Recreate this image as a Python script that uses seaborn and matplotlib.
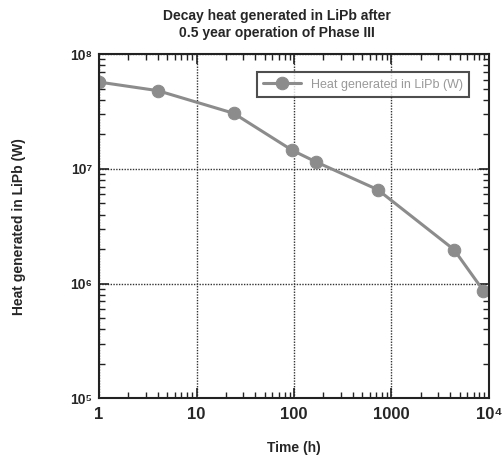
import numpy as np
import pandas as pd
from matplotlib import pyplot as plt
from matplotlib.ticker import LogLocator, NullFormatter, FixedLocator
import seaborn as sns

# decay heat after 0.5 year operation
time_h = [1, 4, 24, 96, 168, 720, 4380, 8760]
heat_w = [5.7e7, 4.8e7, 3.05e7, 1.45e7, 1.15e7, 6.6e6, 1.98e6, 8.7e5]
series_label = "Heat generated in LiPb (W)"
x_ticks = [1, 10, 100, 1000, 10000]
x_tick_labels = ["1", "10", "100", "1000", "10\u2074"]
y_ticks = [1e5, 1e6, 1e7, 1e8]
y_tick_labels = ["10\u2075", "10\u2076", "10\u2077", "10\u2078"]

sns.set_style("ticks")
plt.rcParams['font.family'] = ['Liberation Sans', 'DejaVu Sans']

df = pd.DataFrame({"time": time_h, "heat": heat_w})

fig = plt.figure(figsize=(5.03, 4.58), dpi=100)
ax = fig.add_axes([0.197, 0.13, 0.775, 0.752])

sns.lineplot(data=df, x="time", y="heat", ax=ax, color="#8c8c8c", linewidth=2.2,
             marker="o", markersize=9, markeredgecolor="#8c8c8c", label=series_label)

ax.set_xscale("log")
ax.set_yscale("log")
ax.set_xlim(1, 1e4)
ax.set_ylim(1e5, 1e8)

ax.xaxis.set_major_locator(FixedLocator(x_ticks))
ax.set_xticklabels(x_tick_labels)
ax.yaxis.set_major_locator(FixedLocator(y_ticks))
ax.set_yticklabels(y_tick_labels)
ax.xaxis.set_minor_locator(LogLocator(base=10, subs=np.arange(2, 10), numticks=20))
ax.yaxis.set_minor_locator(LogLocator(base=10, subs=np.arange(2, 10), numticks=20))
ax.xaxis.set_minor_formatter(NullFormatter())
ax.yaxis.set_minor_formatter(NullFormatter())

ax.tick_params(which="both", direction="in", top=True, right=True, color="#222222")
ax.tick_params(which="major", length=7, width=1.2)
ax.tick_params(which="minor", length=4, width=1.0)
ax.tick_params(axis="x", which="major", labelsize=12, pad=6)
ax.tick_params(axis="y", which="major", labelsize=10, pad=5)
for lab in ax.get_xticklabels() + ax.get_yticklabels():
    lab.set_fontweight("bold")

for sp in ax.spines.values():
    sp.set_linewidth(1.5)
    sp.set_color("#222222")

ax.grid(True, which="major", linestyle=(0, (1, 1)), color="#333333", linewidth=1.0)

ax.set_xlabel("Time (h)", fontsize=10, fontweight="bold", labelpad=14)
ax.set_ylabel("Heat generated in LiPb (W)", fontsize=10, fontweight="bold", labelpad=32)
ax.set_title("Decay heat generated in LiPb after\n0.5 year operation of Phase III",
             fontsize=10, fontweight="bold", pad=12, x=0.455, linespacing=1.3)

leg = ax.legend(loc="upper right", bbox_to_anchor=(0.965, 0.965), frameon=True, fancybox=False,
                fontsize=9, handlelength=3.0, borderpad=0.5)
leg.get_frame().set_edgecolor("#222222")
leg.get_frame().set_linewidth(1.5)
for t in leg.get_texts():
    t.set_color("#999999")

fig.savefig("out.png", dpi=100)
